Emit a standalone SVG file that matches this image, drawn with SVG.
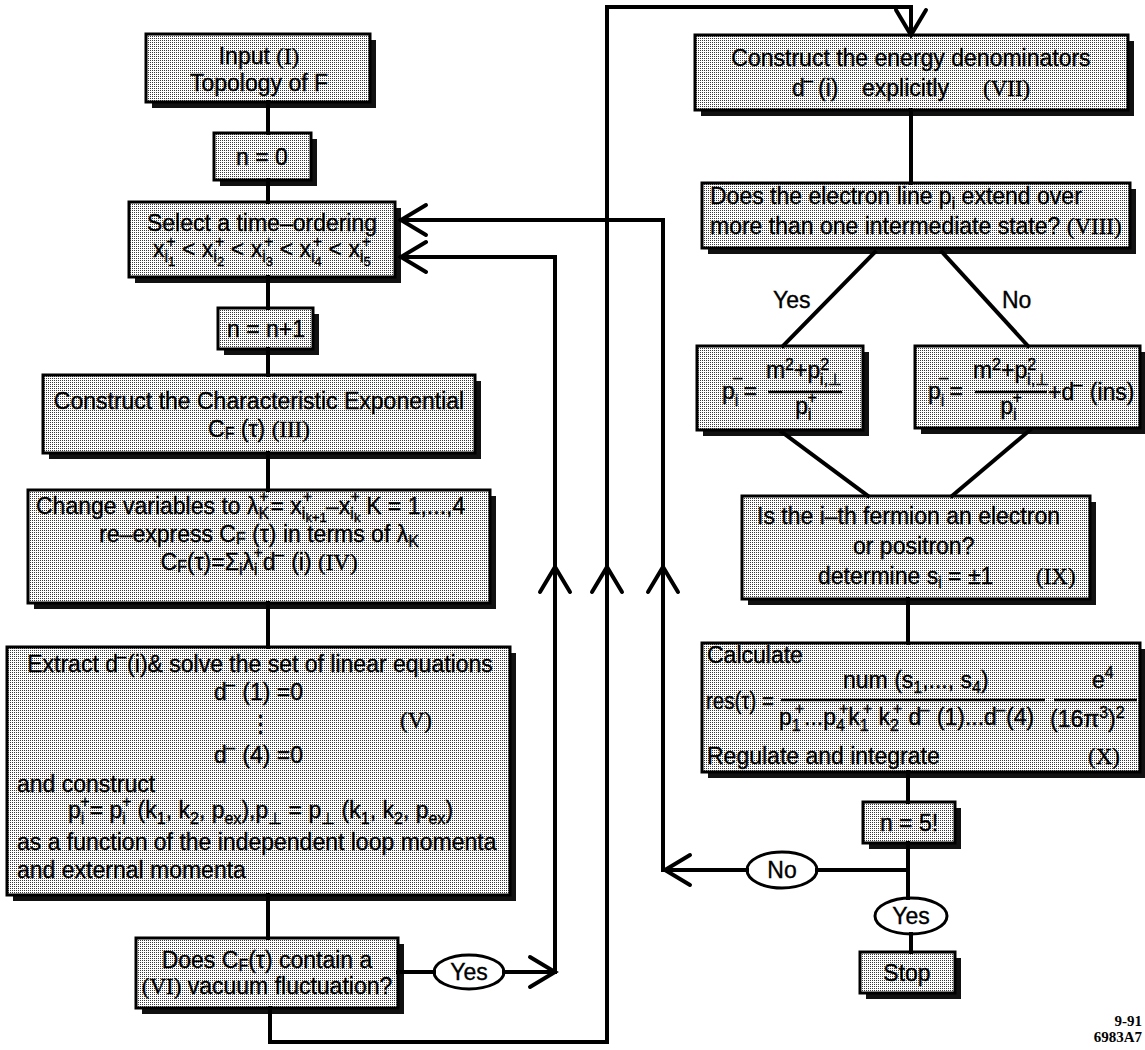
<svg xmlns="http://www.w3.org/2000/svg" xmlns:xlink="http://www.w3.org/1999/xlink" width="1145" height="1050" viewBox="0 0 1145 1050">
<defs>
<pattern id="ht" width="2" height="2" patternUnits="userSpaceOnUse"><rect width="2" height="2" fill="#ffffff"/><rect width="1" height="1" fill="#3a3a3a"/></pattern>
<path id="ah" d="M-25,-15 L0,0 L-25,15"/>
</defs>
<style>
.box{fill:url(#ht);stroke:#000;stroke-width:3}
.sh{fill:#111}
.ov{fill:#fff;stroke:#000;stroke-width:3}
.t{font-family:"Liberation Sans",Arial,Helvetica,sans-serif;font-size:23px;fill:#000;stroke:#000;stroke-width:0.35}
.m{text-anchor:middle}
.s{font-size:16px}
.ss{font-size:13px}
.mn{font-size:19px}
.r{font-family:"Liberation Serif","Times New Roman",serif}
.c{fill:none;stroke:#000;stroke-width:4;stroke-linecap:square}
.a{fill:none;stroke:#000;stroke-width:4;stroke-linecap:round}
.bar{stroke:#000;stroke-width:2.5}
.ft{font-family:"Liberation Serif","Times New Roman",serif;font-weight:bold;font-size:15px;text-anchor:end}
</style>
<rect width="1145" height="1050" fill="#fff"/>

<g id="n-input">
<rect class="sh" x="152" y="40" width="224" height="68"/>
<rect class="box" x="146" y="34" width="224" height="68"/>
<text class="t m" x="259" y="64">Input <tspan class="r">(I)</tspan></text>
<text class="t m" x="259" y="91">Topology of F</text>
</g>

<g id="n-n0">
<rect class="sh" x="220" y="139" width="97" height="47"/>
<rect class="box" x="214" y="133" width="97" height="47"/>
<text class="t m" x="262" y="165">n = 0</text>
</g>

<g id="n-select">
<rect class="sh" x="135" y="208" width="266" height="75"/>
<rect class="box" x="129" y="202" width="266" height="75"/>
<text class="t m" x="262" y="231">Select a time–ordering</text>
<text class="t m" x="262" y="257">x<tspan class="s" dy="5">i</tspan><tspan class="ss" dy="4">1</tspan><tspan class="s" dx="-9" dy="-19">+</tspan><tspan dy="10"> &lt; x</tspan><tspan class="s" dy="5">i</tspan><tspan class="ss" dy="4">2</tspan><tspan class="s" dx="-9" dy="-19">+</tspan><tspan dy="10"> &lt; x</tspan><tspan class="s" dy="5">i</tspan><tspan class="ss" dy="4">3</tspan><tspan class="s" dx="-9" dy="-19">+</tspan><tspan dy="10"> &lt; x</tspan><tspan class="s" dy="5">i</tspan><tspan class="ss" dy="4">4</tspan><tspan class="s" dx="-9" dy="-19">+</tspan><tspan dy="10"> &lt; x</tspan><tspan class="s" dy="5">i</tspan><tspan class="ss" dy="4">5</tspan><tspan class="s" dx="-9" dy="-19">+</tspan></text>
</g>

<g id="n-n1">
<rect class="sh" x="224" y="314" width="95" height="41"/>
<rect class="box" x="218" y="308" width="95" height="41"/>
<text class="t m" x="266" y="337">n = n+1</text>
</g>

<g id="n-char">
<rect class="sh" x="49" y="381" width="432" height="78"/>
<rect class="box" x="43" y="375" width="432" height="78"/>
<text class="t m" x="259" y="409">Construct the Characteristic Exponential</text>
<text class="t m" x="259" y="437">C<tspan class="s" dy="2">F</tspan><tspan dy="-2"> (τ)   </tspan><tspan class="r">(III)</tspan></text>
</g>

<g id="n-change">
<rect class="sh" x="34" y="496" width="462" height="113"/>
<rect class="box" x="28" y="490" width="462" height="113"/>
<text class="t" x="36" y="514">Change variables to λ<tspan class="s" dy="5">K</tspan><tspan class="s" dx="-10" dy="-17">+</tspan><tspan dy="12" dx="2">= x</tspan><tspan class="s" dy="5">i</tspan><tspan class="ss" dy="3">k+1</tspan><tspan class="s" dx="-24" dy="-20">+</tspan><tspan dy="12" dx="14">–x</tspan><tspan class="s" dy="5">i</tspan><tspan class="ss" dy="3">k</tspan><tspan class="s" dx="-10" dy="-20">+</tspan><tspan dy="12">  K = 1,...,4</tspan></text>
<text class="t m" x="259" y="542">re–express C<tspan class="s" dy="2">F</tspan><tspan dy="-2"> (τ) in terms of λ</tspan><tspan class="s" dy="5">K</tspan></text>
<text class="t m" x="259" y="570">C<tspan class="s" dy="2">F</tspan><tspan dy="-2">(τ)=Σ</tspan><tspan class="s" dy="5">i</tspan><tspan dy="-5">λ</tspan><tspan class="s" dy="5">i</tspan><tspan class="s" dx="-4" dy="-17">+</tspan><tspan dy="12">d</tspan><tspan class="mn" dx="-2" dy="-8">−</tspan><tspan dy="8"> (i)  </tspan><tspan class="r">(IV)</tspan></text>
</g>

<g id="n-extract">
<rect class="sh" x="13" y="653" width="503" height="248"/>
<rect class="box" x="7" y="647" width="503" height="248"/>
<text class="t m" x="260" y="672">Extract d<tspan class="mn" dx="-2" dy="-8">−</tspan><tspan dy="8">(i)&amp; solve the set of linear equations</tspan></text>
<text class="t" x="214" y="700">d<tspan class="mn" dx="-2" dy="-8">−</tspan><tspan dy="8"> (1) =0</tspan></text>
<text class="t m" x="260" y="731">⋮</text>
<text class="t r" x="400" y="728">(V)</text>
<text class="t" x="214" y="763">d<tspan class="mn" dx="-2" dy="-8">−</tspan><tspan dy="8"> (4) =0</tspan></text>
<text class="t" x="17" y="792">and construct</text>
<text class="t" x="68" y="818">p<tspan class="s" dy="6">i</tspan><tspan class="s" dx="-4" dy="-17">+</tspan><tspan dy="11">= p</tspan><tspan class="s" dy="6">i</tspan><tspan class="s" dx="-4" dy="-17">+</tspan><tspan dy="11"> (k</tspan><tspan class="s" dy="6">1</tspan><tspan dy="-6">, k</tspan><tspan class="s" dy="6">2</tspan><tspan dy="-6">, p</tspan><tspan class="s" dy="6">ex</tspan><tspan dy="-6">),p</tspan><tspan class="s" dy="6">⊥</tspan><tspan dy="-6"> = p</tspan><tspan class="s" dy="6">⊥</tspan><tspan dy="-6"> (k</tspan><tspan class="s" dy="6">1</tspan><tspan dy="-6">, k</tspan><tspan class="s" dy="6">2</tspan><tspan dy="-6">, p</tspan><tspan class="s" dy="6">ex</tspan><tspan dy="-6">)</tspan></text>
<text class="t" x="17" y="850">as a function of the independent loop momenta</text>
<text class="t" x="17" y="878">and external momenta</text>
</g>

<g id="n-does">
<rect class="sh" x="142" y="944" width="262" height="70"/>
<rect class="box" x="136" y="938" width="262" height="70"/>
<text class="t m" x="267" y="968">Does C<tspan class="s" dy="3">F</tspan><tspan dy="-3">(τ) contain a</tspan></text>
<text class="t m" x="267" y="994"><tspan class="r">(VI)</tspan> vacuum fluctuation?</text>
</g>

<g id="n-yes1">
<ellipse class="ov" cx="469" cy="972" rx="35" ry="17"/>
<text class="t m" x="469" y="980">Yes</text>
</g>

<g id="n-vii">
<rect class="sh" x="701" y="41" width="433" height="75"/>
<rect class="box" x="695" y="35" width="433" height="75"/>
<text class="t m" x="911" y="66">Construct the energy denominators</text>
<text class="t" x="792" y="96">d<tspan class="mn" dx="-2" dy="-8">−</tspan><tspan dy="8" x="818">(i)</tspan><tspan x="862">explicitly</tspan><tspan class="r" x="983">(VII)</tspan></text>
</g>

<g id="n-viii">
<rect class="sh" x="708" y="189" width="428" height="65"/>
<rect class="box" x="702" y="183" width="428" height="65"/>
<text class="t" x="710" y="204">Does the electron line p<tspan class="s" dy="5">i</tspan><tspan dy="-5"> extend over</tspan></text>
<text class="t" x="710" y="234">more than one intermediate state? <tspan class="r">(VIII)</tspan></text>
</g>

<g id="n-fyes">
<rect class="sh" x="703" y="352" width="166" height="84"/>
<rect class="box" x="697" y="346" width="166" height="84"/>
<text class="t" x="722" y="399">p<tspan class="s" dy="7">i</tspan><tspan class="mn" dx="-6" dy="-21">−</tspan><tspan dy="14">=</tspan></text>
<text class="t m" x="804" y="378">m<tspan class="s" dy="-8">2</tspan><tspan dy="8">+p</tspan><tspan class="s" dy="-8">2</tspan><tspan class="s" dx="-9" dy="15">i,⊥</tspan></text>
<line class="bar" x1="768" y1="392" x2="842" y2="392"/>
<text class="t m" x="806" y="414">p<tspan class="s" dy="6">i</tspan><tspan class="s" dx="-4" dy="-17">+</tspan></text>
</g>

<g id="n-fno">
<rect class="sh" x="921" y="352" width="225" height="82"/>
<rect class="box" x="915" y="346" width="225" height="82"/>
<text class="t" x="928" y="399">p<tspan class="s" dy="7">i</tspan><tspan class="mn" dx="-6" dy="-21">−</tspan><tspan dy="14">=</tspan></text>
<text class="t m" x="1011" y="378">m<tspan class="s" dy="-8">2</tspan><tspan dy="8">+p</tspan><tspan class="s" dy="-8">2</tspan><tspan class="s" dx="-9" dy="15">i,⊥</tspan></text>
<line class="bar" x1="975" y1="392" x2="1047" y2="392"/>
<text class="t m" x="1011" y="414">p<tspan class="s" dy="6">i</tspan><tspan class="s" dx="-4" dy="-17">+</tspan></text>
<text class="t" x="1048" y="400">+d<tspan class="mn" dx="-2" dy="-8">−</tspan><tspan dy="8"> (ins)</tspan></text>
</g>

<g id="n-ix">
<rect class="sh" x="748" y="502" width="348" height="103"/>
<rect class="box" x="742" y="496" width="348" height="103"/>
<text class="t" x="757" y="524">Is the i–th fermion an electron</text>
<text class="t" x="853" y="554">or positron?</text>
<text class="t" x="818" y="584">determine s<tspan class="s" dy="4">i</tspan><tspan dy="-4"> = ±1</tspan></text>
<text class="t r" x="1036" y="584">(IX)</text>
</g>

<g id="n-x">
<rect class="sh" x="708" y="649" width="438" height="129"/>
<rect class="box" x="702" y="643" width="438" height="129"/>
<text class="t" x="707" y="663">Calculate</text>
<text class="t" x="843" y="688">num (s<tspan class="s" dy="5">1</tspan><tspan dy="-5">,..., s</tspan><tspan class="s" dy="5">4</tspan><tspan dy="-5">)</tspan></text>
<text class="t" x="1092" y="688">e<tspan class="s" dy="-10">4</tspan></text>
<text class="t" x="706" y="709" textLength="68" lengthAdjust="spacingAndGlyphs">res(τ) =</text>
<line class="bar" x1="781" y1="700" x2="1045" y2="700"/>
<text class="t" x="779" y="725">p<tspan class="s" dy="6">1</tspan><tspan class="s" dx="-6" dy="-17">+</tspan><tspan dy="11">...p</tspan><tspan class="s" dy="6">4</tspan><tspan class="s" dx="-6" dy="-17">+</tspan><tspan dy="11">k</tspan><tspan class="s" dy="6">1</tspan><tspan class="s" dx="-6" dy="-17">+</tspan><tspan dy="11"> k</tspan><tspan class="s" dy="6">2</tspan><tspan class="s" dx="-6" dy="-17">+</tspan><tspan dy="11"> d</tspan><tspan class="mn" dx="-2" dy="-8">−</tspan><tspan dy="8"> (1)...d</tspan><tspan class="mn" dx="-2" dy="-8">−</tspan><tspan dy="8">(4)</tspan></text>
<line class="bar" x1="1054" y1="700" x2="1137" y2="700"/>
<text class="t" x="1050" y="727">(16π<tspan class="s" dy="-9">3</tspan><tspan dy="9">)</tspan><tspan class="s" dy="-9">2</tspan></text>
<text class="t" x="707" y="764">Regulate and integrate</text>
<text class="t r" x="1088" y="764">(X)</text>
</g>

<g id="n-n5">
<rect class="sh" x="869" y="808" width="92" height="41"/>
<rect class="box" x="863" y="802" width="92" height="41"/>
<text class="t m" x="909" y="831">n = 5!</text>
</g>

<g id="n-no">
<ellipse class="ov" cx="782" cy="870" rx="35" ry="18"/>
<text class="t m" x="782" y="878">No</text>
</g>

<g id="n-yes2">
<ellipse class="ov" cx="911" cy="916" rx="36" ry="18"/>
<text class="t m" x="911" y="924">Yes</text>
</g>

<g id="n-stop">
<rect class="sh" x="866" y="958" width="95" height="41"/>
<rect class="box" x="860" y="952" width="95" height="41"/>
<text class="t m" x="907" y="981">Stop</text>
</g>

<g id="connectors">
<path class="c" d="M268,102 V133"/>
<path class="c" d="M268,180 V202"/>
<path class="c" d="M268,277 V308"/>
<path class="c" d="M268,349 V375"/>
<path class="c" d="M268,453 V490"/>
<path class="c" d="M268,603 V647"/>
<path class="c" d="M268,895 V938"/>
<path class="c" d="M270,1008 V1042 H607 V7 H911 V33"/>
<path class="c" d="M398,972 H434"/>
<path class="c" d="M504,972 H555 V257 H401"/>
<path class="c" d="M911,110 V183"/>
<path class="c" d="M875,252 L783,346"/>
<path class="c" d="M942,252 L1028,346"/>
<path class="c" d="M782,432 L868,496"/>
<path class="c" d="M1030,430 L952,496"/>
<path class="c" d="M908,599 V643"/>
<path class="c" d="M908,772 V802"/>
<path class="c" d="M908,843 V898"/>
<path class="c" d="M911,934 V952"/>
<path class="c" d="M908,870 H817"/>
<path class="c" d="M747,870 H663 V220 H401"/>
<use class="a" xlink:href="#ah" href="#ah" transform="translate(401,220) rotate(180)"/>
<use class="a" xlink:href="#ah" href="#ah" transform="translate(401,257) rotate(180)"/>
<use class="a" xlink:href="#ah" href="#ah" transform="translate(555,972)"/>
<use class="a" xlink:href="#ah" href="#ah" transform="translate(555,567) rotate(-90)"/>
<use class="a" xlink:href="#ah" href="#ah" transform="translate(607,567) rotate(-90)"/>
<use class="a" xlink:href="#ah" href="#ah" transform="translate(663,567) rotate(-90)"/>
<use class="a" xlink:href="#ah" href="#ah" transform="translate(665,870) rotate(180)"/>
<use class="a" xlink:href="#ah" href="#ah" transform="translate(911,35) rotate(90)"/>
</g>

<g id="labels">
<text class="t" x="773" y="308">Yes</text>
<text class="t" x="1002" y="308">No</text>
<text class="ft" x="1142" y="1026">9-91</text>
<text class="ft" x="1142" y="1042">6983A7</text>
</g>
</svg>
